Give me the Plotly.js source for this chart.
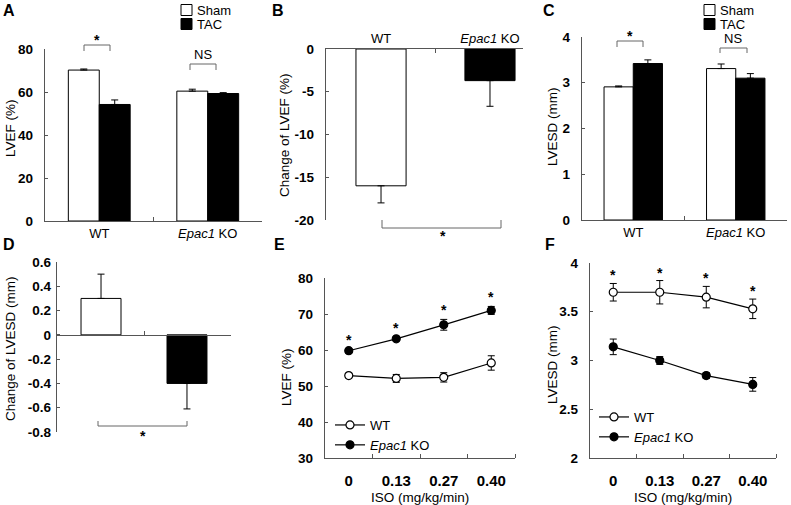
<!DOCTYPE html>
<html>
<head>
<meta charset="utf-8">
<script src="https://cdn.plot.ly/plotly-3.0.1.min.js"></script>
<style>
  html, body { margin: 0; padding: 0; background: #fff; }
  #chart { width: 791px; height: 505px; }
</style>
</head>
<body>
<div id="chart"></div>
<script>
// ---- data ----
var groups = ["WT", "<i>Epac1</i> KO"];
var barSeries = ["Sham", "TAC"];
var lvefSham = [70.2, 60.4];
var lvefShamErr = [0.5, 0.9];
var lvefTac = [54.2, 59.3];
var lvefTacErr = [2.1, 0.4];

var lvefChange = [-16.0, -3.7];
var lvefChangeErr = [2.0, 3.0];

var lvesdSham = [2.91, 3.31];
var lvesdShamErr = [0.02, 0.1];
var lvesdTac = [3.42, 3.1];
var lvesdTacErr = [0.08, 0.1];

var lvesdChange = [0.3, -0.4];
var lvesdChangeUp = [0.2, 0];
var lvesdChangeDown = [0, 0.21];

var isoDoses = ["0", "0.13", "0.27", "0.40"];
var efWT = [52.9, 52.1, 52.4, 56.4];
var efWTErr = [0.6, 1.1, 1.3, 2.0];
var efKO = [59.8, 63.1, 67.0, 71.0];
var efKOErr = [0.6, 0.4, 1.5, 1.1];

var esdWT = [3.70, 3.70, 3.65, 3.53];
var esdWTErr = [0.09, 0.12, 0.11, 0.10];
var esdKO = [3.14, 3.00, 2.845, 2.755];
var esdKOErr = [0.08, 0.04, 0.03, 0.07];

var changeLvefTicks = ["-20", "-15", "-10", "-5", "0"];
var changeLvesdTicks = ["-0.8", "-0.6", "-0.4", "-0.2", "0", "0.2", "0.4", "0.6"];

// ---- pixel helpers (figure is 791 x 505) ----
var W = 791, H = 505;
function px(p) { return p / W; }
function py(p) { return 1 - p / H; }
function dx(a, b) { return [px(a), px(b)]; }
function dy(top, bottom) { return [py(bottom), py(top)]; }
function idx(arr) { return arr.map(function (_, i) { return i; }); }

var FONT = "Liberation Sans, Arial, Helvetica, sans-serif";
var AX = "#555";
var barFill = ["#fff", "#000"];

function errBar(up, down) {
  return { type: "data", symmetric: false, array: up, arrayminus: down,
           color: "#000", thickness: 1, width: 3.5 };
}
function zeros(n) { var z = []; for (var i = 0; i < n; i++) z.push(0); return z; }

var traces = [
  // A
  { type: "bar", name: barSeries[0], x: idx(groups), y: lvefSham, xaxis: "x", yaxis: "y", showlegend: false,
    marker: { color: barFill[0], line: { color: "#000", width: 1 } }, error_y: errBar(lvefShamErr, zeros(2)) },
  { type: "bar", name: barSeries[1], x: idx(groups), y: lvefTac, xaxis: "x", yaxis: "y", showlegend: false,
    marker: { color: barFill[1], line: { color: "#000", width: 1 } }, error_y: errBar(lvefTacErr, zeros(2)) },
  // B
  { type: "bar", x: idx(groups), y: lvefChange, xaxis: "x2", yaxis: "y2", showlegend: false, width: 0.46,
    marker: { color: barFill, line: { color: "#000", width: 1 } }, error_y: errBar(zeros(2), lvefChangeErr) },
  // C
  { type: "bar", name: barSeries[0], x: idx(groups), y: lvesdSham, xaxis: "x3", yaxis: "y3", showlegend: false,
    marker: { color: barFill[0], line: { color: "#000", width: 1 } }, error_y: errBar(lvesdShamErr, zeros(2)) },
  { type: "bar", name: barSeries[1], x: idx(groups), y: lvesdTac, xaxis: "x3", yaxis: "y3", showlegend: false,
    marker: { color: barFill[1], line: { color: "#000", width: 1 } }, error_y: errBar(lvesdTacErr, zeros(2)) },
  // D
  { type: "bar", x: idx(groups), y: lvesdChange, xaxis: "x4", yaxis: "y4", showlegend: false, width: 0.465,
    marker: { color: barFill, line: { color: "#000", width: 1 } }, error_y: errBar(lvesdChangeUp, lvesdChangeDown) },
  // E
  { type: "scatter", mode: "lines+markers", name: "WT", x: idx(isoDoses), y: efWT, xaxis: "x5", yaxis: "y5", legend: "legend",
    line: { color: "#000", width: 1.2 }, marker: { size: 8, color: "#fff", line: { color: "#000", width: 1.2 } },
    error_y: { type: "data", array: efWTErr, color: "#000", thickness: 1, width: 3.5 } },
  { type: "scatter", mode: "lines+markers", name: "<i>Epac1</i> KO", x: idx(isoDoses), y: efKO, xaxis: "x5", yaxis: "y5", legend: "legend",
    line: { color: "#000", width: 1.2 }, marker: { size: 8, color: "#000", line: { color: "#000", width: 1.2 } },
    error_y: { type: "data", array: efKOErr, color: "#000", thickness: 1, width: 3.5 } },
  // F
  { type: "scatter", mode: "lines+markers", name: "WT", x: idx(isoDoses), y: esdWT, xaxis: "x6", yaxis: "y6", legend: "legend2",
    line: { color: "#000", width: 1.2 }, marker: { size: 8, color: "#fff", line: { color: "#000", width: 1.2 } },
    error_y: { type: "data", array: esdWTErr, color: "#000", thickness: 1, width: 3.5 } },
  { type: "scatter", mode: "lines+markers", name: "<i>Epac1</i> KO", x: idx(isoDoses), y: esdKO, xaxis: "x6", yaxis: "y6", legend: "legend2",
    line: { color: "#000", width: 1.2 }, marker: { size: 8, color: "#000", line: { color: "#000", width: 1.2 } },
    error_y: { type: "data", array: esdKOErr, color: "#000", thickness: 1, width: 3.5 } }
];

function yAx(domain, range, extra) {
  var a = { domain: domain, range: range, showline: true, linecolor: AX, linewidth: 1.3,
            ticks: "inside", ticklen: 3, tickcolor: AX, showgrid: false, zeroline: false, fixedrange: true,
            ticklabelstandoff: 8,
            tickfont: { family: FONT, size: 13.5, weight: "bold", color: "#000" } };
  for (var k in extra) a[k] = extra[k];
  return a;
}
function xCat(domain, range, anchor, extra) {
  var a = { domain: domain, range: range, anchor: anchor, showline: true, linecolor: AX, linewidth: 1.3,
            tickvals: idx(groups), ticktext: groups, ticks: "", showgrid: false, zeroline: false, fixedrange: true,
            tickfont: { family: FONT, size: 13, color: "#000" },
            minor: { tickmode: "array", tickvals: [0.5], ticks: "inside", ticklen: 4, tickcolor: AX } };
  for (var k in extra) a[k] = extra[k];
  return a;
}
function xIso(domain, anchor) {
  return { domain: domain, range: [-0.5, 3.5], anchor: anchor, showline: true, linecolor: AX, linewidth: 1.3,
           tickvals: idx(isoDoses), ticktext: isoDoses, ticks: "", showgrid: false, zeroline: false, fixedrange: true,
           ticklabelstandoff: 9,
           tickfont: { family: FONT, size: 15, weight: "bold", color: "#000" },
           minor: { tickmode: "array", tickvals: [0.5, 1.5, 2.5, 3.5], ticks: "inside", ticklen: 4, tickcolor: AX } };
}

function bracket(x1, x2, top, arm) {
  return { type: "path", xref: "paper", yref: "paper", line: { color: "#666", width: 1 },
           path: "M" + px(x1) + "," + py(arm) + " L" + px(x1) + "," + py(top) + " L" + px(x2) + "," + py(top) + " L" + px(x2) + "," + py(arm) };
}
function box(x, y, s, fill) {
  return { type: "rect", xref: "paper", yref: "paper", x0: px(x), x1: px(x + s), y0: py(y + s), y1: py(y),
           fillcolor: fill, line: { color: "#000", width: 1 } };
}
function txt(x, y, text, opts) {
  var a = { xref: "paper", yref: "paper", x: px(x), y: py(y), text: text, showarrow: false,
            xanchor: "center", yanchor: "middle", font: { family: FONT, size: 13, color: "#000" } };
  for (var k in opts) a[k] = opts[k];
  return a;
}
function label(x, y, t) { return txt(x, y, t, { font: { family: FONT, size: 16, weight: "bold", color: "#000" } }); }
function yTitle(x, y, t) { return txt(x, y, t, { textangle: -90, font: { family: FONT, size: 13.5, color: "#000" } }); }
function star(x, y) { return txt(x, y, "*", { font: { family: FONT, size: 14, weight: "bold", color: "#000" } }); }

var annotations = [
  label(9, 10, "A"), label(278, 10, "B"), label(549, 10, "C"),
  label(9, 244, "D"), label(279, 244, "E"), label(550, 244, "F"),
  yTitle(10, 128, "LVEF (%)"), yTitle(284, 135, "Change of LVEF (%)"), yTitle(552, 127, "LVESD (mm)"),
  yTitle(10, 349, "Change of LVESD (mm)"), yTitle(286, 377, "LVEF (%)"), yTitle(552, 365, "LVESD (mm)"),
  star(97, 40), txt(203, 55, "NS"),
  star(443, 236),
  star(630, 36), txt(733, 39, "NS"),
  star(143, 436),
  txt(420, 497, "ISO (mg/kg/min)", { font: { family: FONT, size: 13.5, color: "#000" } }),
  txt(683, 497, "ISO (mg/kg/min)", { font: { family: FONT, size: 13.5, color: "#000" } })
];
var shapes = [
  bracket(84, 110, 45, 51), bracket(190, 216, 64, 70),
  bracket(382, 501, 228, 220),
  bracket(617, 643, 41, 47), bracket(720, 747, 48, 53),
  bracket(98, 187, 426, 421)
];

// legends for the bar panels (A and C)
[[181, 195], [704, 718]].forEach(function (pos) {
  barSeries.forEach(function (name, i) {
    shapes.push(box(pos[0], 4.5 + i * 14, 11, barFill[i]));
    annotations.push(txt(pos[1], 10 + i * 14, name, { xanchor: "left" }));
  });
});

// stars above significant points (E: KO, F: WT)
efKO.forEach(function (v, i) {
  annotations.push({ xref: "x5", yref: "y5", x: i, y: v + efKOErr[i], yanchor: "bottom", yshift: -1, text: "*",
                     showarrow: false, font: { family: FONT, size: 14, weight: "bold", color: "#000" } });
});
esdWT.forEach(function (v, i) {
  annotations.push({ xref: "x6", yref: "y6", x: i, y: v + esdWTErr[i], yanchor: "bottom", yshift: -2, text: "*",
                     showarrow: false, font: { family: FONT, size: 14, weight: "bold", color: "#000" } });
});

var legFont = { family: FONT, size: 13, color: "#000" };
var layout = {
  width: W, height: H, margin: { l: 0, r: 0, t: 0, b: 0 },
  paper_bgcolor: "#fff", plot_bgcolor: "rgba(0,0,0,0)",
  font: { family: FONT, color: "#000" },
  barmode: "group", bargap: 0.43, bargroupgap: 0,
  xaxis: xCat(dx(45, 262), [-0.5, 1.5], "y"),
  yaxis: yAx(dy(49, 221), [0, 80], { dtick: 20, anchor: "x" }),
  xaxis2: xCat(dx(326, 523), [-0.505, 1.303], "y2", { side: "top" }),
  yaxis2: yAx(dy(49, 220), [-20, 0], { tickvals: [-20, -15, -10, -5, 0], ticktext: changeLvefTicks, anchor: "x2" }),
  xaxis3: xCat(dx(582, 787), [-0.5, 1.5], "y3"),
  yaxis3: yAx(dy(37, 220), [0, 4], { dtick: 1, anchor: "x3" }),
  xaxis4: xCat(dx(57, 231), [-0.512, 1.512], "free", { position: py(335), showticklabels: false }),
  yaxis4: yAx(dy(262, 432), [-0.8, 0.6], { tickvals: [-0.8, -0.6, -0.4, -0.2, 0, 0.2, 0.4, 0.6], ticktext: changeLvesdTicks,
                                          anchor: "x4", ticklabelstandoff: 2 }),
  xaxis5: xIso(dx(325, 515), "y5"),
  yaxis5: yAx(dy(278, 458), [30, 80], { dtick: 10, anchor: "x5" }),
  xaxis6: xIso(dx(590, 776), "y6"),
  yaxis6: yAx(dy(263, 458), [2, 4], { dtick: 0.5, anchor: "x6" }),
  legend: { x: px(330), y: py(410), xanchor: "left", yanchor: "top", font: legFont, bgcolor: "rgba(0,0,0,0)" },
  legend2: { x: px(594), y: py(402), xanchor: "left", yanchor: "top", font: legFont, bgcolor: "rgba(0,0,0,0)" },
  annotations: annotations,
  shapes: shapes
};

Plotly.newPlot("chart", traces, layout, { staticPlot: true, displayModeBar: false });
</script>
</body>
</html>
